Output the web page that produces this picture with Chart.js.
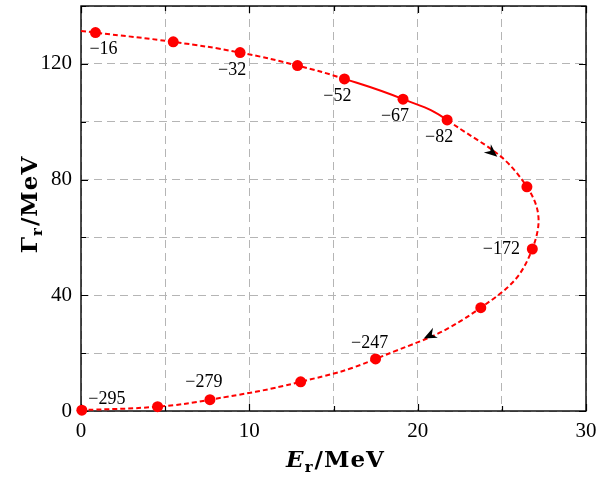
<!DOCTYPE html>
<html>
<head>
<meta charset="utf-8">
<script src="https://cdn.jsdelivr.net/npm/chart.js@4"></script>
<style>
  html, body { margin: 0; padding: 0; background: #fff; }
  #wrap { width: 598px; height: 481px; }
</style>
</head>
<body>
<div id="wrap"><canvas id="chart" width="598" height="481"></canvas></div>
<script>
// resonance trajectory
const energies = [0.86, 5.48, 9.45, 12.86, 15.65, 19.13, 21.75, 26.49, 26.81, 23.75, 17.5, 13.05, 7.66, 4.55, 0.05];
const widths = [130.8, 127.6, 123.9, 119.4, 114.8, 107.8, 100.6, 77.5, 56.0, 35.7, 18.0, 10.1, 3.9, 1.5, 0.3];
const pointTags = ['−16', '', '−32', '', '−52', '−67', '−82', '', '−172', '', '−247', '', '−279', '', '−295'];
const curveStart = [0, 131.4];
const arrowTips = [[24.73, 87.9], [20.36, 25.1]];
const arrowSpans = [[6, 7], [9, 10]];
const xTickLabels = [0, 10, 20, 30];
const yTickLabels = [0, 40, 80, 120];

// pixel offsets of the tag text from its point
const tagOffsets = [[8, 17], null, [-8, 18], null, [-7, 17], [-8, 17], [-8, 17], null, [-31, 0], null, [-6, -16], null, [-6, -17], null, [25, -11]];

const points = energies.map((e, i) => ({ x: e, y: widths[i] }));
const curve = [{ x: curveStart[0], y: curveStart[1] }].concat(points);
const RED = '#ff0000';

const framePlugin = {
  id: 'frame',
  beforeDatasetsDraw(chart) {
    const { ctx, chartArea: a, scales: { x, y } } = chart;
    ctx.save();
    ctx.strokeStyle = '#000';
    ctx.lineWidth = 1.2;
    ctx.beginPath();
    x.ticks.forEach(t => {
      const px = Math.round(x.getPixelForValue(t.value)) + 0.5;
      const len = xTickLabels.includes(t.value) ? 7 : 5;
      ctx.moveTo(px, a.bottom); ctx.lineTo(px, a.bottom - len);
      ctx.moveTo(px, a.top); ctx.lineTo(px, a.top + len);
    });
    y.ticks.forEach(t => {
      const py = Math.round(y.getPixelForValue(t.value)) + 0.5;
      const len = yTickLabels.includes(t.value) ? 7 : 5;
      ctx.moveTo(a.left, py); ctx.lineTo(a.left + len, py);
      ctx.moveTo(a.right, py); ctx.lineTo(a.right - len, py);
    });
    ctx.stroke();
    ctx.lineWidth = 1.4;
    ctx.strokeRect(a.left, a.top, a.right - a.left, a.bottom - a.top);
    ctx.restore();
  },
  afterDatasetsDraw(chart) {
    const { ctx, scales: { x, y } } = chart;
    ctx.save();
    ctx.fillStyle = '#000';
    ctx.font = '18px "Liberation Serif"';
    ctx.textAlign = 'center';
    ctx.textBaseline = 'middle';
    pointTags.forEach((tag, i) => {
      if (!tag) return;
      const off = tagOffsets[i];
      ctx.fillText(tag, x.getPixelForValue(energies[i]) + off[0], y.getPixelForValue(widths[i]) + off[1]);
    });
    // direction arrows
    arrowTips.forEach((tip, k) => {
      const [i0, i1] = arrowSpans[k];
      const dx = x.getPixelForValue(energies[i1]) - x.getPixelForValue(energies[i0]);
      const dy = y.getPixelForValue(widths[i1]) - y.getPixelForValue(widths[i0]);
      const ang = Math.atan2(dy, dx);
      ctx.save();
      ctx.translate(x.getPixelForValue(tip[0]), y.getPixelForValue(tip[1]));
      ctx.rotate(ang);
      ctx.beginPath();
      ctx.moveTo(0, 0);
      ctx.lineTo(-13, -5.5);
      ctx.lineTo(-9, 0);
      ctx.lineTo(-13, 5.5);
      ctx.closePath();
      ctx.fill();
      ctx.restore();
    });
    ctx.restore();
  },
  afterDraw(chart) {
    const { ctx, chartArea: a } = chart;
    ctx.save();
    ctx.fillStyle = '#000';
    ctx.textBaseline = 'alphabetic';
    ctx.textAlign = 'left';
    const big = 'bold 23px "DejaVu Serif"';
    const sub = 'bold 15px "DejaVu Serif"';
    const drawTitle = (first, firstFont) => {
      ctx.letterSpacing = '1px';
      ctx.font = firstFont; const w1 = ctx.measureText(first).width;
      ctx.font = sub; const w2 = ctx.measureText('r').width + 1;
      ctx.font = big; const w3 = ctx.measureText('/MeV').width;
      let cx = -(w1 + w2 + w3) / 2;
      ctx.font = firstFont; ctx.fillText(first, cx, 0); cx += w1;
      ctx.font = sub; ctx.fillText('r', cx, 5); cx += w2;
      ctx.font = big; ctx.fillText('/MeV', cx, 0);
    };
    ctx.save();
    ctx.translate((a.left + a.right) / 2 + 2, 467);
    drawTitle('E', 'italic bold 23px "DejaVu Serif"');
    ctx.restore();
    ctx.save();
    ctx.translate(37, (a.top + a.bottom) / 2 - 4);
    ctx.rotate(-Math.PI / 2);
    drawTitle('Γ', big);
    ctx.restore();
    ctx.restore();
  }
};

new Chart(document.getElementById('chart'), {
  type: 'scatter',
  data: {
    datasets: [{
      data: curve,
      showLine: true,
      pointRadius: 0,
      borderColor: RED,
      borderWidth: 2,
      borderDash: [5, 3],
      tension: 0.45,
      fill: false,
      segment: {
        borderDash: ctx => (ctx.p0DataIndex === 5 || ctx.p0DataIndex === 6) ? [] : [5, 3]
      }
    }, {
      data: points,
      showLine: false,
      pointRadius: 5.5,
      pointBackgroundColor: RED,
      pointBorderWidth: 0,
      clip: false
    }]
  },
  options: {
    responsive: false,
    animation: false,
    events: [],
    layout: { padding: { top: 6, right: 12, left: 0, bottom: 0 } },
    plugins: { legend: { display: false }, tooltip: { enabled: false } },
    scales: {
      x: {
        type: 'linear',
        min: 0, max: 30,
        afterFit: s => { s.height = 70; s.paddingLeft = 0; s.paddingRight = 0; },
        ticks: {
          stepSize: 5,
          padding: 8,
          color: '#000',
          font: { family: 'Liberation Serif', size: 21 },
          callback: v => xTickLabels.includes(v) ? String(v) : ''
        },
        grid: { color: '#b5b5b5', lineWidth: 1, drawTicks: false },
        border: { display: false, dash: [8, 5] }
      },
      y: {
        type: 'linear',
        min: 0, max: 140,
        afterFit: s => { s.width = 81; s.paddingTop = 0; s.paddingBottom = 0; },
        ticks: {
          stepSize: 20,
          padding: 9,
          color: '#000',
          font: { family: 'Liberation Serif', size: 21 },
          callback: v => yTickLabels.includes(v) ? String(v) : ''
        },
        grid: { color: '#b5b5b5', lineWidth: 1, drawTicks: false },
        border: { display: false, dash: [8, 5] }
      }
    }
  },
  plugins: [framePlugin]
});
</script>
</body>
</html>
